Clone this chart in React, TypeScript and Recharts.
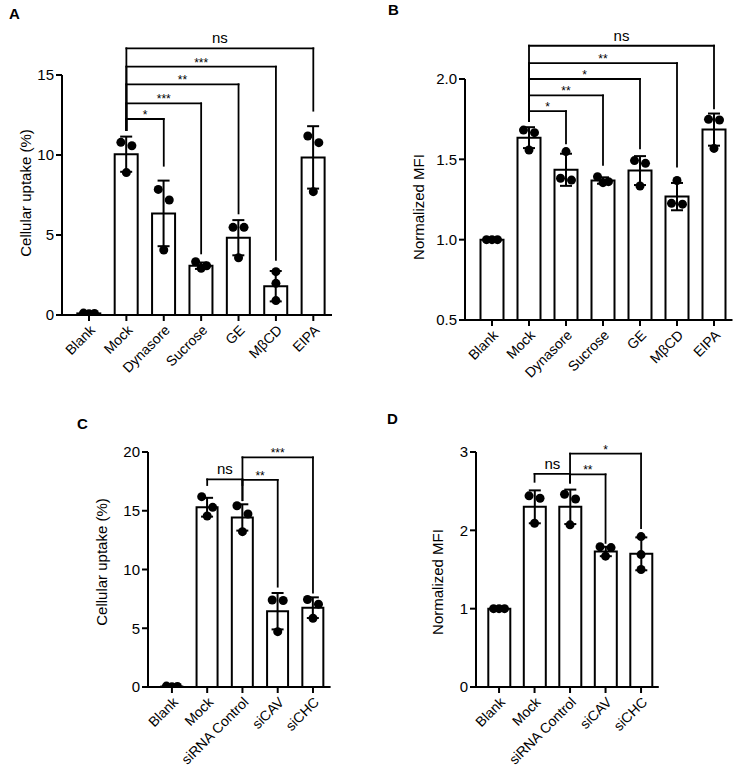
import React from 'react';
import { ComposedChart, Bar, Line, XAxis, YAxis, ErrorBar, ReferenceLine } from 'recharts';

// ---------- Panel A ----------
const categoriesA = ['Blank', 'Mock', 'Dynasore', 'Sucrose', 'GE', 'MβCD', 'EIPA'];
const meanA = [0.1, 10.05, 6.35, 3.08, 4.83, 1.8, 9.85];
const sdA = [0.04, 1.1, 2.05, 0.2, 1.1, 0.95, 1.95];
const p1A = [0.12, 10.79, 7.85, 3.33, 5.48, 2.71, 11.19];
const p2A = [0.1, 10.58, 7.19, 3.08, 5.48, 1.98, 10.77];
const p3A = [0.08, 8.9, 4.06, 2.92, 3.58, 0.9, 7.71];
const ticksA = [0, 5, 10, 15];

// ---------- Panel B ----------
const categoriesB = ['Blank', 'Mock', 'Dynasore', 'Sucrose', 'GE', 'MβCD', 'EIPA'];
const meanB = [1.0, 1.635, 1.435, 1.368, 1.43, 1.268, 1.685];
const sdB = [0.005, 0.065, 0.1, 0.02, 0.09, 0.085, 0.1];
const p1B = [1.0, 1.682, 1.548, 1.392, 1.492, 1.368, 1.749];
const p2B = [1.0, 1.666, 1.382, 1.361, 1.475, 1.226, 1.745];
const p3B = [1.0, 1.558, 1.371, 1.355, 1.334, 1.221, 1.568];
const ticksB = [0.5, 1.0, 1.5, 2.0];

// ---------- Panel C ----------
const categoriesC = ['Blank', 'Mock', 'siRNA Control', 'siCAV', 'siCHC'];
const meanC = [0.05, 15.3, 14.43, 6.45, 6.75];
const sdC = [0.03, 0.8, 1.12, 1.55, 0.88];
const p1C = [0.08, 16.2, 15.43, 7.4, 7.45];
const p2C = [0.05, 15.29, 14.72, 7.36, 7.05];
const p3C = [0.02, 14.55, 13.22, 4.71, 5.85];
const ticksC = [0, 5, 10, 15, 20];

// ---------- Panel D ----------
const categoriesD = ['Blank', 'Mock', 'siRNA Control', 'siCAV', 'siCHC'];
const meanD = [1.0, 2.3, 2.3, 1.73, 1.7];
const sdD = [0.005, 0.21, 0.22, 0.06, 0.21];
const p1D = [1.0, 2.44, 2.46, 1.79, 1.92];
const p2D = [1.0, 2.41, 2.4, 1.78, 1.69];
const p3D = [1.0, 2.09, 2.07, 1.67, 1.5];
const ticksD = [0, 1, 2, 3];

type Bracket = { from: string; to: string; y: number; fromEnd: number; toEnd: number; label: string };

const bracketsA: Bracket[] = [
  { from: 'Mock', to: 'Dynasore', y: 12.25, fromEnd: 11.56, toEnd: 9.33, label: '*' },
  { from: 'Mock', to: 'Sucrose', y: 13.23, fromEnd: 11.56, toEnd: 3.85, label: '***' },
  { from: 'Mock', to: 'GE', y: 14.42, fromEnd: 11.56, toEnd: 6.35, label: '**' },
  { from: 'Mock', to: 'MβCD', y: 15.52, fromEnd: 11.56, toEnd: 3.44, label: '***' },
  { from: 'Mock', to: 'EIPA', y: 16.67, fromEnd: 11.56, toEnd: 12.77, label: 'ns' },
];
const bracketsB: Bracket[] = [
  { from: 'Mock', to: 'Dynasore', y: 1.8, fromEnd: 1.74, toEnd: 1.6, label: '*' },
  { from: 'Mock', to: 'Sucrose', y: 1.898, fromEnd: 1.74, toEnd: 1.465, label: '**' },
  { from: 'Mock', to: 'GE', y: 2.0, fromEnd: 1.74, toEnd: 1.568, label: '*' },
  { from: 'Mock', to: 'MβCD', y: 2.099, fromEnd: 1.74, toEnd: 1.454, label: '**' },
  { from: 'Mock', to: 'EIPA', y: 2.207, fromEnd: 1.74, toEnd: 1.817, label: 'ns' },
];
const bracketsC: Bracket[] = [
  { from: 'Mock', to: 'siRNA Control', y: 17.67, fromEnd: 17.19, toEnd: 17.19, label: 'ns' },
  { from: 'siRNA Control', to: 'siCAV', y: 17.62, fromEnd: 15.9, toEnd: 8.54, label: '**' },
  { from: 'siRNA Control', to: 'siCHC', y: 19.55, fromEnd: 15.9, toEnd: 8.03, label: '***' },
];
const bracketsD: Bracket[] = [
  { from: 'Mock', to: 'siRNA Control', y: 2.72, fromEnd: 2.62, toEnd: 2.62, label: 'ns' },
  { from: 'siRNA Control', to: 'siCAV', y: 2.715, fromEnd: 2.61, toEnd: 1.84, label: '**' },
  { from: 'siRNA Control', to: 'siCHC', y: 2.98, fromEnd: 2.61, toEnd: 2.03, label: '*' },
];

const buildRows = (cats: string[], mean: number[], sd: number[], p1: number[], p2: number[], p3: number[]) =>
  cats.map((c, i) => ({ cat: c, mean: mean[i], sd: sd[i], p1: p1[i], p2: p2[i], p3: p3[i] }));

const POINT_KEYS = ['p1', 'p2', 'p3'];

// horizontal spreading of overlapping replicate dots (GraphPad-like)
function jitter(vals: number[], idx: number, ppu: number) {
  const order = vals.map((_, i) => i).sort((a, b) => vals[b] - vals[a]);
  const clusters: number[][] = [];
  let cur = [order[0]];
  for (let k = 1; k < order.length; k++) {
    const prev = order[k - 1];
    const me = order[k];
    if ((vals[prev] - vals[me]) * ppu < 11) cur.push(me);
    else {
      clusters.push(cur);
      cur = [me];
    }
  }
  clusters.push(cur);
  const cl = clusters.find((c) => c.includes(idx)) || [idx];
  const pos = cl.indexOf(idx);
  const S = 5.5;
  if (cl.length === 1) return 0;
  if (cl.length === 2) return pos === 0 ? -S : S;
  return [-S, S, 0][pos] ?? 0;
}

const makeDot = (idx: number, ppu: number) => (props: any) => {
  const { cx, cy, payload, index } = props;
  if (cx == null || cy == null) return <g key={`d${idx}-${index}`} />;
  const vals = POINT_KEYS.map((k) => payload[k]);
  const dx = jitter(vals, idx, ppu);
  return <circle key={`d${idx}-${index}`} cx={cx + dx} cy={cy} r={4.5} fill="#000" />;
};

type PanelCfg = {
  left: number;
  top: number;
  width: number;
  height: number;
  margin: { top: number; right: number; bottom: number; left: number };
  yWidth: number;
  xHeight: number;
  padL: number;
  padR: number;
  barSize: number;
  domain: [number, number];
  ticks: number[];
  fmt?: (v: number) => string;
  title: string;
  titleX: number;
  titleY: number;
  rows: any[];
  brackets: Bracket[];
  ppu: number;
};

function Panel({ cfg }: { cfg: PanelCfg }) {
  const tx = cfg.titleX - cfg.left;
  const ty = cfg.titleY - cfg.top;
  return (
    <div style={{ position: 'absolute', left: cfg.left, top: cfg.top, width: cfg.width, height: cfg.height }}>
      <ComposedChart width={cfg.width} height={cfg.height} data={cfg.rows} margin={cfg.margin}>
        <XAxis
          dataKey="cat"
          type="category"
          interval={0}
          height={cfg.xHeight}
          padding={{ left: cfg.padL, right: cfg.padR }}
          axisLine={{ stroke: '#000', strokeWidth: 2 }}
          tickLine={{ stroke: '#000', strokeWidth: 2 }}
          tickSize={6}
          tickMargin={3}
          tick={{ angle: -45, textAnchor: 'end', fontSize: 14, fill: '#000' }}
        />
        <YAxis
          type="number"
          domain={cfg.domain}
          ticks={cfg.ticks}
          interval={0}
          allowDataOverflow
          width={cfg.yWidth}
          tickFormatter={cfg.fmt}
          axisLine={{ stroke: '#000', strokeWidth: 2 }}
          tickLine={{ stroke: '#000', strokeWidth: 2 }}
          tickSize={6}
          tick={{ fontSize: 15, fill: '#000' }}
          label={{
            content: () => (
              <text
                x={tx}
                y={ty}
                transform={`rotate(-90 ${tx} ${ty})`}
                textAnchor="middle"
                fontSize={15}
                fill="#000"
              >
                {cfg.title}
              </text>
            ),
          }}
        />
        <Bar dataKey="mean" barSize={cfg.barSize} fill="#fff" stroke="#000" strokeWidth={2} isAnimationActive={false}>
          <ErrorBar dataKey="sd" width={6} stroke="#000" strokeWidth={2} direction="y" />
        </Bar>
        {POINT_KEYS.map((k, i) => (
          <Line
            key={k}
            dataKey={k}
            stroke="none"
            dot={makeDot(i, cfg.ppu)}
            activeDot={false}
            isAnimationActive={false}
            legendType="none"
          />
        ))}
        {cfg.brackets.flatMap((b, i) => [
          <ReferenceLine
            key={`h${i}`}
            segment={[
              { x: b.from, y: b.y },
              { x: b.to, y: b.y },
            ]}
            stroke="#000"
            strokeWidth={1.8}
            strokeLinecap="square"
            ifOverflow="visible"
            label={{
              value: b.label,
              position: 'top',
              offset: b.label === 'ns' ? 5 : 0,
              fontSize: b.label === 'ns' ? 15 : 12,
              fill: '#000',
            }}
          />,
          <ReferenceLine
            key={`l${i}`}
            segment={[
              { x: b.from, y: b.y },
              { x: b.from, y: b.fromEnd },
            ]}
            stroke="#000"
            strokeWidth={1.8}
            strokeLinecap="square"
            ifOverflow="visible"
          />,
          <ReferenceLine
            key={`r${i}`}
            segment={[
              { x: b.to, y: b.y },
              { x: b.to, y: b.toEnd },
            ]}
            stroke="#000"
            strokeWidth={1.8}
            strokeLinecap="square"
            ifOverflow="visible"
          />,
        ])}
      </ComposedChart>
    </div>
  );
}

const panelA: PanelCfg = {
  left: 0,
  top: 0,
  width: 345,
  height: 395,
  margin: { top: 75, right: 13, bottom: 0, left: 12 },
  yWidth: 50,
  xHeight: 80,
  padL: 8.3,
  padR: 0,
  barSize: 23,
  domain: [0, 15],
  ticks: ticksA,
  title: 'Cellular uptake (%)',
  titleX: 31,
  titleY: 193,
  rows: buildRows(categoriesA, meanA, sdA, p1A, p2A, p3A),
  brackets: bracketsA,
  ppu: 16,
};

const panelB: PanelCfg = {
  left: 370,
  top: 0,
  width: 373,
  height: 395,
  margin: { top: 79, right: 10.5, bottom: 0, left: 45 },
  yWidth: 50,
  xHeight: 75,
  padL: 8.5,
  padR: 0,
  barSize: 23,
  domain: [0.5, 2.0],
  ticks: ticksB,
  fmt: (v: number) => v.toFixed(1),
  title: 'Normalized MFI',
  titleX: 424,
  titleY: 207,
  rows: buildRows(categoriesB, meanB, sdB, p1B, p2B, p3B),
  brackets: bracketsB,
  ppu: 160.7,
};

const panelC: PanelCfg = {
  left: 0,
  top: 400,
  width: 345,
  height: 373,
  margin: { top: 52, right: 14.4, bottom: 0, left: 98 },
  yWidth: 50,
  xHeight: 86,
  padL: 6.3,
  padR: 0,
  barSize: 21,
  domain: [0, 20],
  ticks: ticksC,
  title: 'Cellular uptake (%)',
  titleX: 107,
  titleY: 562,
  rows: buildRows(categoriesC, meanC, sdC, p1C, p2C, p3C),
  brackets: bracketsC,
  ppu: 11.75,
};

const panelD: PanelCfg = {
  left: 370,
  top: 400,
  width: 373,
  height: 373,
  margin: { top: 52, right: 84.2, bottom: 0, left: 56 },
  yWidth: 50,
  xHeight: 86,
  padL: 5.3,
  padR: 0,
  barSize: 22,
  domain: [0, 3],
  ticks: ticksD,
  title: 'Normalized MFI',
  titleX: 443,
  titleY: 582,
  rows: buildRows(categoriesD, meanD, sdD, p1D, p2D, p3D),
  brackets: bracketsD,
  ppu: 78.3,
};

const panelLetters = [
  { t: 'A', x: 9, y: 18.5 },
  { t: 'B', x: 388, y: 15 },
  { t: 'C', x: 77, y: 429 },
  { t: 'D', x: 387, y: 424 },
];

export default function App() {
  return (
    <div
      style={{
        position: 'absolute',
        left: 0,
        top: 0,
        width: 743,
        height: 773,
        background: '#fff',
        fontFamily: '"Liberation Sans", Arial, Helvetica, sans-serif',
        overflow: 'hidden',
      }}
    >
      <Panel cfg={panelA} />
      <Panel cfg={panelB} />
      <Panel cfg={panelC} />
      <Panel cfg={panelD} />
      <svg width={743} height={773} style={{ position: 'absolute', left: 0, top: 0, pointerEvents: 'none' }}>
        {panelLetters.map((p) => (
          <text key={p.t} x={p.x} y={p.y} fontSize={15} fontWeight="bold" fill="#000">
            {p.t}
          </text>
        ))}
      </svg>
    </div>
  );
}
